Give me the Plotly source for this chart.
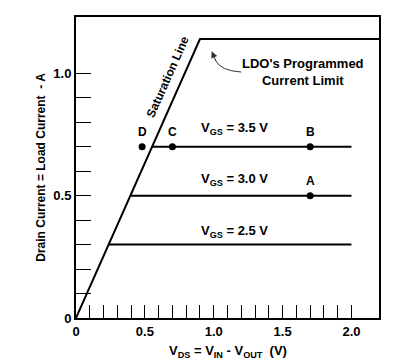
import plotly.graph_objects as go

# Data
sat_x = [0, 0.9, 2.2]
sat_y = [0, 1.14, 1.14]

vgs_labels = ["V<sub>GS</sub> = 2.5 V", "V<sub>GS</sub> = 3.0 V", "V<sub>GS</sub> = 3.5 V"]
vgs_current = [0.3, 0.5, 0.7]
vgs_start = [0.24, 0.40, 0.55]
vgs_end = [2.0, 2.0, 2.0]
vgs_label_y = [0.355, 0.565, 0.775]

pt_names = ["D", "C", "B", "A"]
pt_x = [0.48, 0.70, 1.70, 1.70]
pt_y = [0.70, 0.70, 0.70, 0.50]

x_tickvals = [0, 0.5, 1.0, 1.5, 2.0]
x_ticktext = ["0", "0.5", "1.0", "1.5", "2.0"]
x_minor = [round(0.1 * i, 1) for i in range(1, 21)]
y_tickvals = [0, 0.5, 1.0]
y_ticktext = ["0", "0.5", "1.0"]
y_minor = [round(0.1 * i, 1) for i in range(1, 11)]

FONT = "Liberation Sans, Arial, sans-serif"
BOLD = dict(size=12, color="black", family=FONT, weight="bold")

fig = go.Figure()
fig.add_trace(go.Scatter(x=sat_x, y=sat_y, mode="lines",
                         line=dict(color="black", width=2), hoverinfo="skip"))
for cur, x0, x1 in zip(vgs_current, vgs_start, vgs_end):
    fig.add_trace(go.Scatter(x=[x0, x1], y=[cur, cur], mode="lines",
                             line=dict(color="black", width=2), hoverinfo="skip"))
fig.add_trace(go.Scatter(x=pt_x, y=pt_y, mode="markers",
                         marker=dict(color="black", size=7), hoverinfo="skip"))

annotations = []
for name, x, y in zip(pt_names, pt_x, pt_y):
    annotations.append(dict(x=x, y=y, text=name, showarrow=False, yshift=15, font=BOLD))
for lab, ly in zip(vgs_labels, vgs_label_y):
    annotations.append(dict(x=1.15, y=ly, text=lab, showarrow=False,
                            font=dict(BOLD, size=13)))
annotations.append(dict(x=0.665, y=0.985, text="Saturation Line", showarrow=False,
                        textangle=-66, font=BOLD))
annotations.append(dict(x=1.645, y=1.005, text="LDO's Programmed<br>Current Limit",
                        showarrow=False, font=dict(BOLD, size=13)))
# arrow head of the curved pointer
annotations.append(dict(x=0.985, y=1.09, ax=1.02, ay=1.045, axref="x", ayref="y",
                        text="", showarrow=True, arrowhead=2, arrowsize=1.3,
                        arrowwidth=1, arrowcolor="#333"))
# axis titles
annotations.append(dict(xref="paper", yref="paper", x=0.5, y=-0.078, yanchor="top",
                        xanchor="center", showarrow=False, font=dict(BOLD, size=13),
                        text="V<sub>DS</sub> = V<sub>IN</sub> - V<sub>OUT</sub>  (V)"))
annotations.append(dict(xref="paper", yref="paper", x=-0.118, y=0.5, textangle=-90,
                        xanchor="center", yanchor="middle",
                        showarrow=False, font=dict(BOLD, size=12),
                        text="Drain Current = Load Current  - A"))

fig.update_layout(
    width=404, height=363,
    margin=dict(l=76, r=25, t=17, b=45),
    paper_bgcolor="white", plot_bgcolor="white",
    showlegend=False,
    font=BOLD,
    annotations=annotations,
    shapes=[dict(type="path", xref="x", yref="y",
                 path="M 1.20 1.005 Q 1.05 1.01 1.01 1.055",
                 line=dict(color="#333", width=1))],
    xaxis=dict(range=[0, 2.2], tickvals=x_tickvals, ticktext=x_ticktext,
               ticks="inside", ticklen=13, tickwidth=1, tickcolor="black",
               minor=dict(tickmode="array", tickvals=x_minor, ticks="inside",
                          ticklen=13, tickwidth=1, tickcolor="black", showgrid=False),
               showgrid=False, zeroline=False, showline=True, linecolor="black",
               linewidth=2, mirror=True, automargin=False,
               tickfont=dict(BOLD, size=13)),
    yaxis=dict(range=[0, 1.23], tickvals=y_tickvals, ticktext=y_ticktext,
               ticks="inside", ticklen=15, tickwidth=1, tickcolor="black",
               minor=dict(tickmode="array", tickvals=y_minor, ticks="inside",
                          ticklen=15, tickwidth=1, tickcolor="black", showgrid=False),
               showgrid=False, zeroline=False, showline=True, linecolor="black",
               linewidth=2, mirror=True, automargin=False,
               tickfont=dict(BOLD, size=13)),
)

fig.write_html("out.html", config={"displayModeBar": False},
               post_script="document.body.style.margin='0';")
